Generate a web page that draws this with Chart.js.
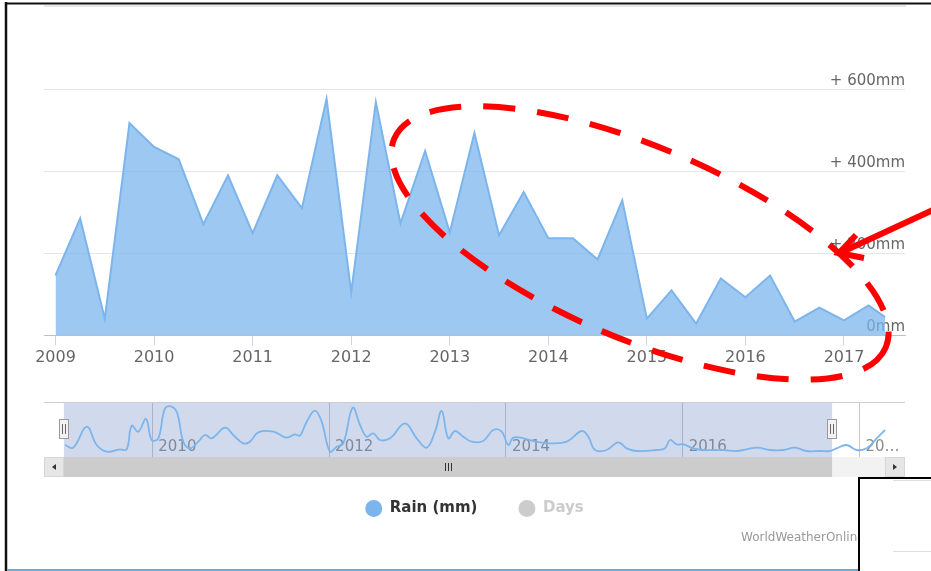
<!DOCTYPE html>
<html><head><meta charset="utf-8">
<script src="https://cdn.jsdelivr.net/npm/chart.js@4/dist/chart.umd.min.js"></script>
<style>
html,body{margin:0;padding:0;background:#fff;}
#wrap{position:relative;width:931px;height:571px;overflow:hidden;background:#fff;}
#main{position:absolute;left:0;top:0;}
#nav{position:absolute;left:44px;top:402px;}
</style></head><body>
<div id="wrap">
<canvas id="main" width="931" height="571"></canvas>
<canvas id="nav" width="861" height="75"></canvas>
</div>
<script>
// ---- data ----
const periods = ['2009-01','2009-04','2009-07','2009-10','2010-01','2010-04','2010-07','2010-10',
  '2011-01','2011-04','2011-07','2011-10','2012-01','2012-04','2012-07','2012-10',
  '2013-01','2013-04','2013-07','2013-10','2014-01','2014-04','2014-07','2014-10',
  '2015-01','2015-04','2015-07','2015-10','2016-01','2016-04','2016-07','2016-10',
  '2017-01','2017-04','2017-06'];
const rainMm = [146,285,41,517,459,429,271,390,249,390,310,576,105,568,273,449,
  251,493,244,349,237,237,185,329,41,110,29,139,93,146,34,68,37,73,45];
const yearTicks = [2009,2010,2011,2012,2013,2014,2015,2016,2017];
const rainTicks = [0,200,400,600];
const seriesNames = ['Rain (mm)','Days'];
const daysValues = [];

const navDates = [2009.012,2009.106,2009.258,2009.371,2009.484,2009.635,2009.71,2009.767,2009.842,2009.929,
  2009.993,2010.068,2010.144,2010.219,2010.283,2010.351,2010.426,2010.52,2010.596,2010.672,
  2010.822,2010.916,2011.029,2011.105,2011.199,2011.369,2011.52,2011.614,2011.671,2011.747,
  2011.84,2011.916,2012.01,2012.086,2012.161,2012.267,2012.35,2012.425,2012.5,2012.576,
  2012.689,2012.859,2012.991,2013.104,2013.198,2013.274,2013.348,2013.424,2013.518,2013.613,
  2013.744,2013.857,2013.952,2014.027,2014.084,2014.197,2014.348,2014.499,2014.688,2014.857,
  2014.932,2015.008,2015.14,2015.271,2015.367,2015.48,2015.706,2015.8,2015.856,2015.932,
  2016.007,2016.12,2016.233,2016.459,2016.611,2016.837,2016.988,2017.138,2017.27,2017.403,
  2017.553,2017.666,2017.742,2017.855,2017.968,2018.081,2018.195,2018.289];
const navRainMm = [120,88,340,120,40,68,68,352,280,432,
  180,200,560,580,500,160,80,160,240,200,
  328,240,140,160,272,280,208,248,232,400,
  532,400,40,100,140,568,360,220,260,180,
  200,380,200,88,280,528,200,288,220,160,
  168,300,280,120,208,200,160,140,160,288,
  220,60,60,152,80,48,60,80,180,128,
  128,80,60,60,48,88,60,60,88,48,
  48,48,80,120,60,80,200,300];
const navTicks = [2010,2012,2014,2016,2018];
const navSelection = [2009.0, 2017.69];
const creditText = 'WorldWeatherOnline.com';

// ---- helpers ----
const toYear = p => +p.slice(0,4) + (+p.slice(5,7) - 1) / 12;
Chart.defaults.font.family = "'DejaVu Sans', sans-serif";

const decoPlugin = {
  id: 'deco',
  afterDraw(chart) {
    const c = chart.ctx;
    c.save();
    // frame lines of the screenshot
    c.strokeStyle = '#111'; c.lineWidth = 2.5;
    c.beginPath(); c.moveTo(6, 2); c.lineTo(6, 571); c.stroke();
    c.lineWidth = 2;
    c.beginPath(); c.moveTo(5, 3.5); c.lineTo(931, 3.5); c.stroke();
    c.strokeStyle = '#e8e8e8'; c.lineWidth = 2;
    c.beginPath(); c.moveTo(44, 6); c.lineTo(906, 6); c.stroke();
    c.strokeStyle = '#6fa8dc'; c.lineWidth = 2;
    c.beginPath(); c.moveTo(7, 570); c.lineTo(858, 570); c.stroke();
    // credits
    c.font = "12px 'DejaVu Sans'"; c.fillStyle = '#999'; c.textAlign = 'left'; c.textBaseline = 'middle';
    c.fillText(creditText, 741, 538);
    // overlapping window box
    c.fillStyle = '#fff'; c.fillRect(858, 477, 80, 100);
    c.strokeStyle = '#000'; c.lineWidth = 2;
    c.strokeRect(859, 478, 90, 100);
    c.strokeStyle = '#dedede'; c.lineWidth = 1;
    c.beginPath(); c.moveTo(893, 480.5); c.lineTo(931, 480.5); c.moveTo(893, 551.5); c.lineTo(931, 551.5); c.stroke();
    // red dashed ellipse annotation
    c.strokeStyle = '#ff0000'; c.lineWidth = 6;
    c.setLineDash([32, 22]); c.lineDashOffset = 0;
    c.beginPath(); c.ellipse(640, 243, 267, 96, 23 * Math.PI / 180, 0, 2 * Math.PI); c.stroke();
    // arrow
    c.setLineDash([]); c.lineWidth = 6; c.lineCap = 'butt';
    c.beginPath(); c.moveTo(935, 209); c.lineTo(842, 252); c.stroke();
    c.beginPath(); c.moveTo(856, 235); c.lineTo(839, 253); c.lineTo(864, 258); c.stroke();
    c.restore();
  }
};

new Chart(document.getElementById('main'), {
  type: 'line',
  data: {
    datasets: [{
      label: seriesNames[0],
      data: periods.map((p, i) => ({x: toYear(p), y: rainMm[i]})),
      fill: 'origin',
      backgroundColor: 'rgba(124,181,236,0.75)',
      borderColor: '#7cb5ec',
      borderWidth: 2,
      pointRadius: 0,
      tension: 0
    }, {
      label: seriesNames[1],
      data: daysValues,
      hidden: true,
      backgroundColor: '#cccccc',
      borderColor: '#cccccc'
    }]
  },
  options: {
    responsive: false, animation: false, devicePixelRatio: 1,
    layout: {padding: {left: 44, right: 26, top: 89, bottom: 45}},
    scales: {
      x: {
        type: 'linear', min: 2008.883, max: 2017.619,
        afterBuildTicks: s => { s.ticks = yearTicks.map(v => ({value: v})); },
        afterFit: s => { s.height = 124.5; },
        grid: {drawOnChartArea: false, drawTicks: true, tickLength: 10, tickColor: '#ccd6eb'},
        border: {color: '#c0c0c0', width: 1},
        ticks: {color: '#666', font: {size: 16}, padding: 3, maxRotation: 0, autoSkip: false,
          callback: v => String(v)}
      },
      y: {
        position: 'right', min: 0, max: 600,
        afterBuildTicks: s => { s.ticks = rainTicks.map(v => ({value: v})); },
        afterFit: s => { s.width = 0; },
        grid: {color: '#e6e6e6', drawTicks: false},
        border: {display: false},
        ticks: {mirror: true, padding: 0, labelOffset: -8, color: '#666', font: {size: 15},
          callback: v => v === 0 ? '0mm' : '+ ' + v + 'mm'}
      }
    },
    plugins: {
      tooltip: {enabled: false},
      legend: {
        position: 'bottom', onClick: null,
        labels: {
          usePointStyle: true, pointStyleWidth: 17, boxHeight: 12, padding: 41,
          font: {size: 15, weight: 'bold'},
          generateLabels: chart => chart.data.datasets.map((ds, i) => ({
            text: ds.label, datasetIndex: i, hidden: false, pointStyle: 'circle',
            fillStyle: i === 0 ? '#7cb5ec' : '#cccccc', strokeStyle: i === 0 ? '#7cb5ec' : '#cccccc',
            lineWidth: 0, fontColor: i === 0 ? '#333333' : '#cccccc'
          }))
        }
      }
    }
  },
  plugins: [decoPlugin]
});

const navPlugin = {
  id: 'navdeco',
  beforeDatasetsDraw(chart) {
    const c = chart.ctx, a = chart.chartArea, x = chart.scales.x;
    const x0 = x.getPixelForValue(navSelection[0]), x1 = x.getPixelForValue(navSelection[1]);
    c.save();
    c.fillStyle = 'rgba(102,133,194,0.3)';
    c.fillRect(x0, a.top, x1 - x0, a.bottom - a.top);
    c.restore();
  },
  afterDraw(chart) {
    const c = chart.ctx, a = chart.chartArea, x = chart.scales.x;
    const x0 = x.getPixelForValue(navSelection[0]), x1 = x.getPixelForValue(navSelection[1]);
    const W = chart.width;
    c.save();
    // top outline
    c.strokeStyle = '#cccccc'; c.lineWidth = 1;
    c.beginPath(); c.moveTo(0, 0.5); c.lineTo(W, 0.5); c.stroke();
    // scrollbar
    const sy = a.bottom, sh = 20;
    c.fillStyle = '#f2f2f2'; c.fillRect(0, sy, W, sh);
    c.fillStyle = '#cccccc'; c.fillRect(x0, sy, x1 - x0, sh);
    c.fillStyle = '#e6e6e6'; c.fillRect(0, sy, 20, sh); c.fillRect(W - 20, sy, 20, sh);
    c.strokeStyle = '#d6d6d6'; c.strokeRect(0.5, sy + 0.5, 19, sh - 1); c.strokeRect(W - 19.5, sy + 0.5, 19, sh - 1);
    c.fillStyle = '#333';
    c.beginPath(); c.moveTo(8, sy + 10); c.lineTo(12, sy + 7); c.lineTo(12, sy + 13); c.closePath(); c.fill();
    c.beginPath(); c.moveTo(W - 8, sy + 10); c.lineTo(W - 12, sy + 7); c.lineTo(W - 12, sy + 13); c.closePath(); c.fill();
    const gx = Math.round((x0 + x1) / 2);
    c.strokeStyle = '#333'; c.lineWidth = 1;
    c.beginPath();
    for (const d of [-3, 0, 3]) { c.moveTo(gx + d + 0.5, sy + 6); c.lineTo(gx + d + 0.5, sy + 14); }
    c.stroke();
    // handles
    for (const hx of [x0, x1]) {
      c.fillStyle = '#f2f2f2'; c.strokeStyle = '#999'; c.lineWidth = 1;
      c.fillRect(Math.round(hx) - 5, 17, 10, 20);
      c.strokeRect(Math.round(hx) - 4.5, 17.5, 9, 19);
      c.strokeStyle = '#666';
      c.beginPath();
      c.moveTo(Math.round(hx) - 1.5, 22); c.lineTo(Math.round(hx) - 1.5, 32);
      c.moveTo(Math.round(hx) + 1.5, 22); c.lineTo(Math.round(hx) + 1.5, 32);
      c.stroke();
    }
    c.restore();
  }
};

new Chart(document.getElementById('nav'), {
  type: 'line',
  data: {
    datasets: [{
      label: seriesNames[0],
      data: navDates.map((d, i) => ({x: d, y: navRainMm[i]})),
      borderColor: '#7cb5ec', borderWidth: 1.8, pointRadius: 0, tension: 0.4, fill: false
    }]
  },
  options: {
    responsive: false, animation: false, devicePixelRatio: 1,
    layout: {padding: {left: 0, right: 0, top: 0, bottom: 20}},
    plugins: {legend: {display: false}, tooltip: {enabled: false}},
    scales: {
      x: {
        type: 'linear', min: 2008.775, max: 2018.515, z: 1,
        afterBuildTicks: s => { s.ticks = navTicks.map(v => ({value: v})); },
        afterFit: s => { s.height = 0; },
        grid: {color: '#c8c8c8', drawTicks: false},
        border: {display: false},
        ticks: {mirror: true, align: 'start', labelOffset: 6, padding: 1, color: '#8c8c8c', font: {size: 15},
          maxRotation: 0, autoSkip: false,
          callback: v => v === 2018 ? '20…' : String(v)}
      },
      y: {display: false, min: -24, max: 636}
    }
  },
  plugins: [navPlugin]
});
</script>
</body></html>
